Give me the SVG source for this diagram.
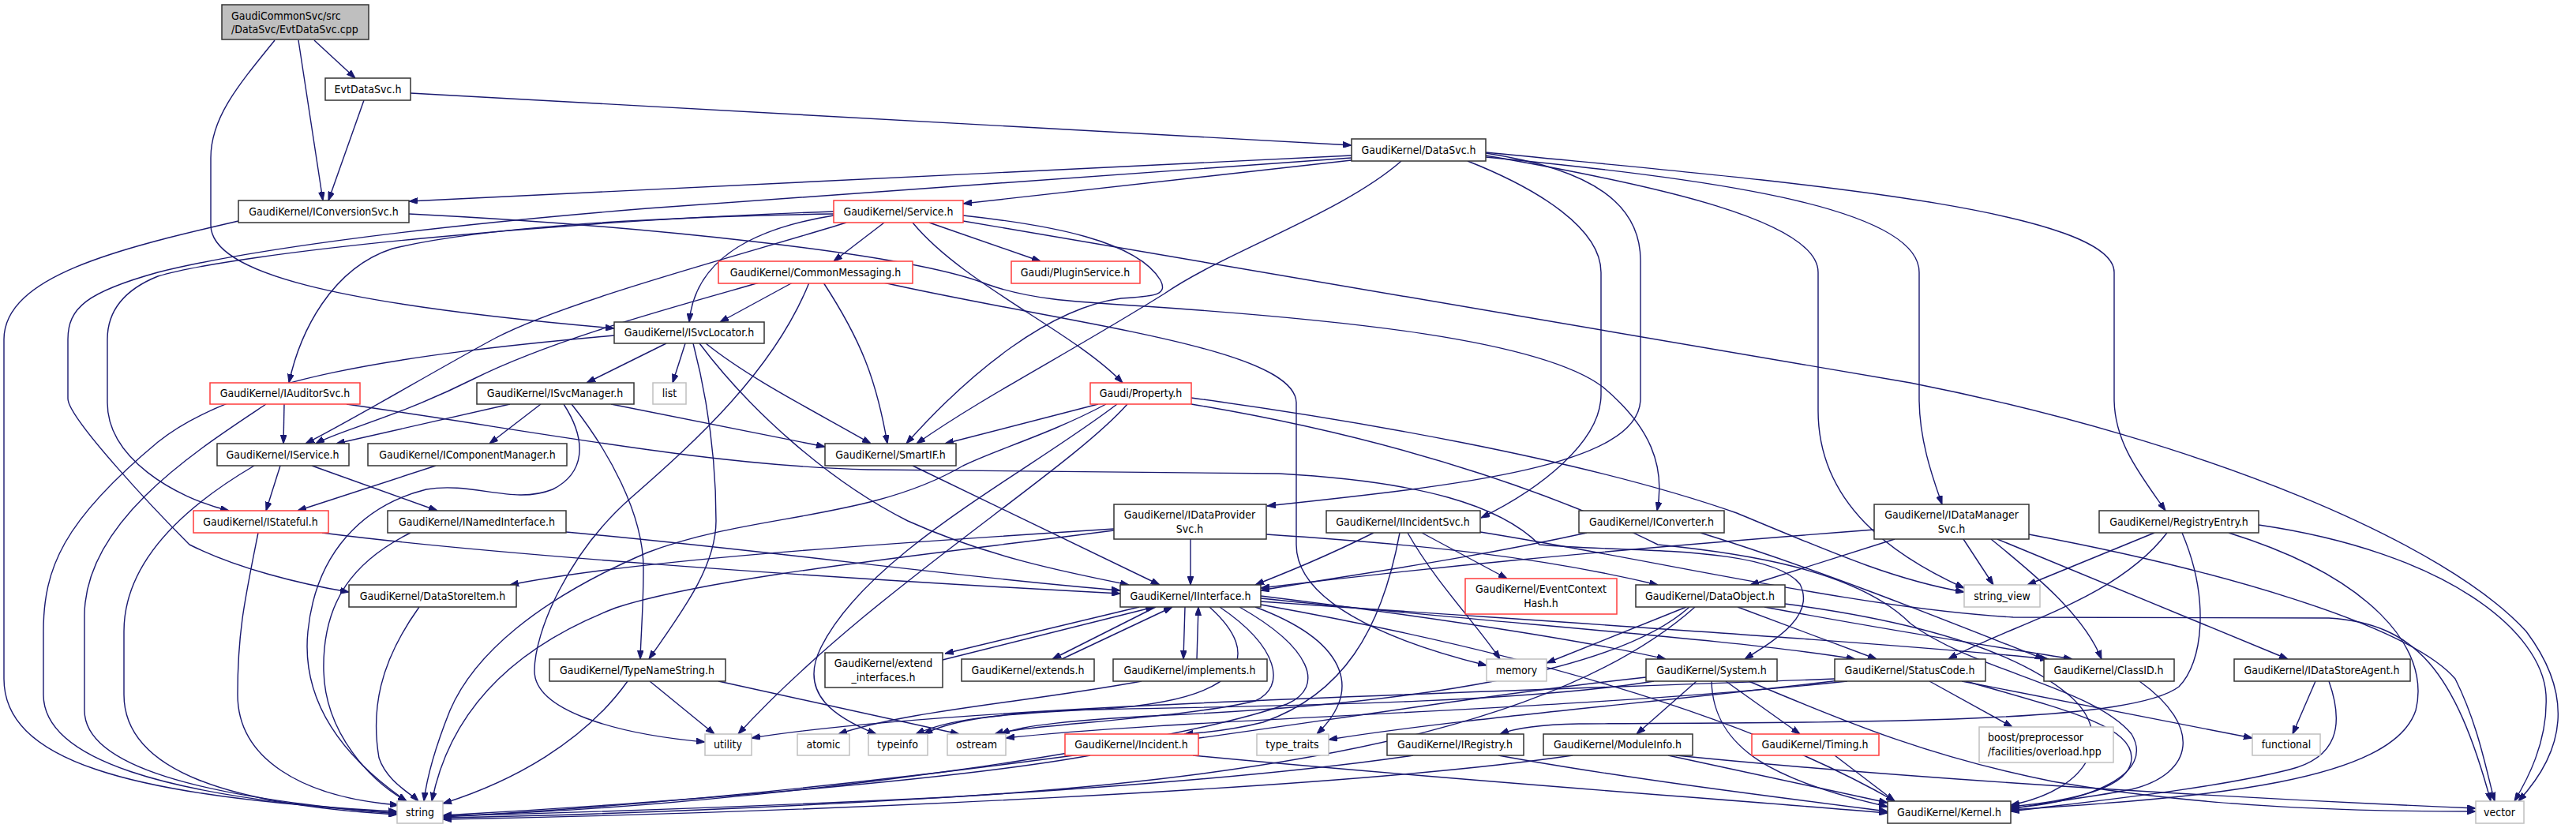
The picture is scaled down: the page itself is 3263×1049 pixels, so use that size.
<svg xmlns="http://www.w3.org/2000/svg" width="3263" height="1049" viewBox="0 0 3263 1049">
<style>
rect{fill:#fff;stroke:#333;stroke-width:1.5}
.red rect{stroke:#ff3c3c}
.gray rect{stroke:#c0c0c0}
.root rect{fill:#bfbfbf}
text{font-family:'DejaVu Sans Condensed','DejaVu Sans',sans-serif;font-stretch:condensed;font-size:14px;fill:#000;text-anchor:middle}
text.l{text-anchor:start}
#edges path{fill:none;stroke:#191970;stroke-width:1.4;marker-end:url(#a)}
</style>
<defs>
<marker id="a" viewBox="0 0 10 7" refX="10" refY="3.5" markerWidth="11" markerHeight="8" markerUnits="userSpaceOnUse" orient="auto"><path d="M0,0L10,3.5L0,7z" fill="#191970" stroke="#191970"/></marker>
</defs>
<rect x="0" y="0" width="3263" height="1049" style="fill:#fff;stroke:none"/>
<g id="edges">
<path d="M398,51 L450,99"/>
<path d="M378,51 L409,254"/>
<path d="M348,51 C300,110 267,150 267,200 L267,285 C267,345 420,385 778,416"/>
<path d="M461,127 L416,254"/>
<path d="M520,118 L1712,184"/>
<path d="M1712,197 L518,255"/>
<path d="M1712,203 L1220,258"/>
<path d="M1712,200 L820,264 C500,290 300,320 200,345 C110,370 86,390 86,430 L86,505 C86,530 200,650 240,690 C300,720 380,740 442,750"/>
<path d="M1775,204 C1700,270 1550,320 1475,372 C1350,450 1250,500 1161,562"/>
<path d="M1220,273 C1330,285 1440,305 1470,355 C1480,375 1460,375 1420,378 C1330,390 1230,470 1148,562"/>
<path d="M1859,204 C1950,240 2028,290 2028,345 L2028,500 C2028,560 1950,620 1876,656"/>
<path d="M1882,194 C2020,215 2078,260 2078,330 L2078,505 C2078,590 1850,615 1605,641"/>
<path d="M1882,197 C2100,235 2303,280 2303,345 L2303,520 C2303,640 2400,705 2488,745"/>
<path d="M1882,199 C2150,225 2431,260 2431,345 L2431,505 C2431,560 2450,610 2460,639"/>
<path d="M1882,193 C2200,225 2678,260 2678,345 L2678,505 C2678,560 2710,600 2743,647"/>
<path d="M302,280 C150,315 5,350 5,430 L5,860 C5,960 150,1010 503,1028"/>
<path d="M518,271 C800,285 1150,320 1250,360 C1300,378 1350,382 1450,388 C1700,405 1950,430 2030,490 C2090,540 2110,590 2099,647"/>
<path d="M1056,271 C800,275 600,290 497,315 C420,340 380,420 366,485"/>
<path d="M1056,268 C700,280 300,320 200,350 C150,370 136,400 136,430 L136,510 C136,580 220,630 290,647"/>
<path d="M1072,282 C950,320 720,380 628,428 C550,470 450,530 387,562"/>
<path d="M1120,282 L1056,331"/>
<path d="M1177,282 L1318,331"/>
<path d="M1156,282 C1220,360 1360,420 1422,485"/>
<path d="M1056,273 C950,290 880,330 873,408"/>
<path d="M1220,280 L2420,485 C2800,560 3100,690 3200,800 C3260,880 3250,950 3190,1015"/>
<path d="M962,358 C850,390 700,430 600,480 C500,530 430,545 400,562"/>
<path d="M1004,358 L912,408"/>
<path d="M1043,358 C1090,430 1110,480 1124,562"/>
<path d="M1119,358 C1350,410 1640,440 1642,510 L1642,690 C1642,760 1750,810 1883,843"/>
<path d="M1025,358 C980,470 880,560 800,630 C720,700 677,800 677,850 C677,900 780,930 893,940"/>
<path d="M844,435 L743,485"/>
<path d="M868,435 L852,485"/>
<path d="M878,435 C900,520 907,600 907,660 C907,720 860,780 822,835"/>
<path d="M886,435 C950,520 1050,610 1150,660 C1250,705 1350,725 1430,741"/>
<path d="M894,435 C950,480 1030,520 1103,562"/>
<path d="M778,425 C500,450 300,480 200,560 C80,660 55,720 55,800 L55,880 C55,960 200,1010 503,1030"/>
<path d="M360,512 L359,562"/>
<path d="M337,512 C250,570 107,660 107,780 L107,900 C107,970 250,1010 503,1031"/>
<path d="M439,512 C700,550 900,590 1100,595 L1620,600 C1800,610 1900,640 1950,690 C2050,700 2240,690 2280,740 C2300,780 2250,810 2210,835"/>
<path d="M646,512 L426,562"/>
<path d="M685,512 L620,562"/>
<path d="M714,512 C745,560 740,600 700,620 C650,640 600,610 540,620 C460,640 400,700 390,800 C380,900 450,970 515,1015"/>
<path d="M724,512 C770,570 815,650 815,720 C815,770 812,800 811,835"/>
<path d="M774,512 L1045,566"/>
<path d="M1391,512 L1197,562"/>
<path d="M1401,512 C1330,550 1260,570 1220,590 C1100,660 950,650 820,700 C680,760 600,830 570,900 C550,950 540,990 537,1015"/>
<path d="M1415,512 C1300,600 1100,700 1040,820 C1010,880 1060,910 1110,930"/>
<path d="M1428,512 C1350,600 1100,750 935,930"/>
<path d="M1509,504 C1700,530 2000,580 2200,650 C2320,700 2400,735 2488,750"/>
<path d="M1509,512 C1800,560 2000,640 2100,690 C2200,700 2350,720 2420,790 C2500,850 2650,870 2700,930 C2730,980 2650,1015 2547,1024"/>
<path d="M355,590 L337,647"/>
<path d="M395,590 L554,647"/>
<path d="M322,590 C220,650 157,720 157,800 L157,880 C157,980 300,1020 503,1032"/>
<path d="M552,590 L377,647"/>
<path d="M327,675 C310,760 301,800 301,880 C301,960 380,1010 505,1020"/>
<path d="M408,675 C600,700 1000,730 1419,752"/>
<path d="M520,675 C450,710 408,760 410,850 C412,930 470,990 515,1015"/>
<path d="M717,674 C1000,700 1200,730 1419,748"/>
<path d="M1156,590 L1469,741"/>
<path d="M531,769 C480,840 470,900 480,960 C490,990 520,1005 530,1015"/>
<path d="M795,863 C740,940 650,990 561,1018"/>
<path d="M823,863 L905,930"/>
<path d="M910,863 L1215,930"/>
<path d="M1508,683 L1508,741"/>
<path d="M1411,670 C1100,690 800,710 646,741"/>
<path d="M1411,672 C1200,700 900,730 780,770 C650,820 570,900 547,1015"/>
<path d="M1604,677 C1800,690 1950,705 2100,741"/>
<path d="M1740,675 C1680,705 1630,725 1590,741"/>
<path d="M1801,675 L1909,733"/>
<path d="M1783,675 C1820,740 1870,790 1900,835"/>
<path d="M1773,675 C1750,800 1700,880 1600,915 C1560,925 1530,928 1500,930"/>
<path d="M1875,674 C2100,710 2350,770 2550,782 L2950,783 C3060,790 3110,850 3155,1015"/>
<path d="M2010,675 C1850,710 1700,730 1597,748"/>
<path d="M2154,675 C2300,720 2450,780 2589,835"/>
<path d="M2374,671 C2000,700 1800,720 1597,745"/>
<path d="M2400,683 L2217,741"/>
<path d="M2487,683 L2525,741"/>
<path d="M2522,683 C2580,730 2640,780 2662,835"/>
<path d="M2530,683 L2898,835"/>
<path d="M2570,677 C2800,720 3050,790 3110,860 C3140,920 3150,980 3160,1015"/>
<path d="M2729,675 L2568,741"/>
<path d="M2745,675 C2680,760 2550,790 2468,835"/>
<path d="M2764,675 C2800,760 2790,840 2760,870 C2700,915 2400,915 2000,917 C1950,918 1920,922 1900,930"/>
<path d="M2823,675 C3000,730 3080,820 3060,900 C3030,990 2800,1010 2547,1026"/>
<path d="M2861,665 C3100,700 3220,800 3225,880 C3228,940 3200,990 3185,1015"/>
<path d="M1443,769 L1197,828"/>
<path d="M1194,836 L1462,769"/>
<path d="M1464,769 L1333,835"/>
<path d="M1345,835 L1485,769"/>
<path d="M1501,769 L1499,835"/>
<path d="M1516,835 L1518,769"/>
<path d="M1545,769 C1620,820 1630,870 1590,888 C1500,910 1300,918 1260,930"/>
<path d="M1532,769 C1600,830 1580,885 1400,898 C1250,905 1200,912 1160,930"/>
<path d="M1570,769 C1660,820 1680,870 1630,892 C1500,940 1000,1020 561,1034"/>
<path d="M1590,769 C1700,810 1730,870 1668,930"/>
<path d="M1597,755 C1800,780 2000,810 2110,835"/>
<path d="M1597,758 C1900,790 2200,810 2350,835"/>
<path d="M1597,762 C2000,790 2400,815 2595,835"/>
<path d="M1597,766 C1900,820 2200,900 2400,1015"/>
<path d="M1446,863 C1300,890 1150,900 1062,930"/>
<path d="M2149,863 L2073,930"/>
<path d="M2186,863 L2280,930"/>
<path d="M2168,863 C2170,950 2250,990 2391,1022"/>
<path d="M2215,863 C2350,920 2450,960 2600,990 C2800,1025 3000,1028 3136,1028"/>
<path d="M2085,858 C1700,900 1200,1000 561,1035"/>
<path d="M2095,863 C1900,895 1500,895 1350,900 C1250,905 1200,915 1170,930"/>
<path d="M2444,863 L2549,921"/>
<path d="M2485,863 L2853,935"/>
<path d="M2490,863 C2620,900 2700,920 2700,960 C2700,1000 2620,1015 2547,1022"/>
<path d="M2340,863 C2000,900 1500,910 1274,935"/>
<path d="M2330,862 C2100,890 1850,910 1683,937"/>
<path d="M2324,860 C1800,880 1200,895 952,935"/>
<path d="M2710,863 C2790,920 2780,980 2700,1000 C2650,1010 2600,1015 2547,1025"/>
<path d="M2933,863 L2904,930"/>
<path d="M2950,863 C2970,920 2960,960 2900,975 C2800,1000 2650,1015 2547,1028"/>
<path d="M1790,957 C1500,1000 900,1030 561,1036"/>
<path d="M1898,957 C2050,985 2250,1010 2391,1028"/>
<path d="M1992,957 C1700,1000 1000,1030 561,1038"/>
<path d="M2113,957 L2391,1017"/>
<path d="M2123,957 C2400,985 2800,1010 3136,1024"/>
<path d="M2324,957 L2400,1015"/>
<path d="M1381,957 C1200,990 800,1020 561,1033"/>
<path d="M1511,957 C1800,985 2150,1010 2391,1030"/>
<path d="M2136,769 L1959,840"/>
<path d="M2201,769 L2377,835"/>
<path d="M2235,769 C2400,800 2500,815 2625,835"/>
<path d="M2147,769 C2000,900 1700,980 1200,1010 C900,1025 700,1030 561,1034"/>
<path d="M2140,769 C2050,850 1800,890 1500,905 C1350,912 1290,920 1268,930"/>
<path d="M2261,765 C2450,790 2560,830 2620,880 C2680,930 2650,1000 2547,1020"/>
</g>
<g id="n_root" class="root"><rect x="281" y="6" width="186" height="44"/><text class="l" x="293" y="25">GaudiCommonSvc/src</text><text class="l" x="293" y="42">/DataSvc/EvtDataSvc.cpp</text></g>
<g id="n_evt"><rect x="412" y="99" width="108" height="28"/><text x="466" y="118">EvtDataSvc.h</text></g>
<g id="n_iconv"><rect x="302" y="254" width="216" height="28"/><text x="410" y="273">GaudiKernel/IConversionSvc.h</text></g>
<g id="n_datasvc"><rect x="1712" y="176" width="170" height="28"/><text x="1797" y="195">GaudiKernel/DataSvc.h</text></g>
<g id="n_service" class="red"><rect x="1056" y="254" width="164" height="28"/><text x="1138" y="273">GaudiKernel/Service.h</text></g>
<g id="n_commsg" class="red"><rect x="910" y="331" width="246" height="28"/><text x="1033" y="350">GaudiKernel/CommonMessaging.h</text></g>
<g id="n_plugin" class="red"><rect x="1281" y="331" width="163" height="28"/><text x="1362" y="350">Gaudi/PluginService.h</text></g>
<g id="n_isvcloc"><rect x="778" y="408" width="190" height="27"/><text x="873" y="426">GaudiKernel/ISvcLocator.h</text></g>
<g id="n_list" class="gray"><rect x="827" y="485" width="42" height="27"/><text x="848" y="503">list</text></g>
<g id="n_iaud" class="red"><rect x="266" y="485" width="190" height="27"/><text x="361" y="503">GaudiKernel/IAuditorSvc.h</text></g>
<g id="n_isvcman"><rect x="604" y="485" width="199" height="27"/><text x="703" y="503">GaudiKernel/ISvcManager.h</text></g>
<g id="n_prop" class="red"><rect x="1381" y="485" width="128" height="27"/><text x="1445" y="503">Gaudi/Property.h</text></g>
<g id="n_iservice"><rect x="275" y="562" width="167" height="28"/><text x="358" y="581">GaudiKernel/IService.h</text></g>
<g id="n_icomp"><rect x="466" y="562" width="252" height="28"/><text x="592" y="581">GaudiKernel/IComponentManager.h</text></g>
<g id="n_smartif"><rect x="1045" y="562" width="166" height="28"/><text x="1128" y="581">GaudiKernel/SmartIF.h</text></g>
<g id="n_istateful" class="red"><rect x="245" y="647" width="171" height="28"/><text x="330" y="666">GaudiKernel/IStateful.h</text></g>
<g id="n_inamed"><rect x="491" y="647" width="226" height="28"/><text x="604" y="666">GaudiKernel/INamedInterface.h</text></g>
<g id="n_idps"><rect x="1411" y="639" width="193" height="44"/><text x="1507" y="657">GaudiKernel/IDataProvider</text><text x="1507" y="675">Svc.h</text></g>
<g id="n_iinc"><rect x="1680" y="647" width="195" height="28"/><text x="1777" y="666">GaudiKernel/IIncidentSvc.h</text></g>
<g id="n_iconverter"><rect x="2000" y="647" width="184" height="28"/><text x="2092" y="666">GaudiKernel/IConverter.h</text></g>
<g id="n_idms"><rect x="2374" y="639" width="196" height="44"/><text x="2472" y="657">GaudiKernel/IDataManager</text><text x="2472" y="675">Svc.h</text></g>
<g id="n_regentry"><rect x="2659" y="647" width="202" height="28"/><text x="2760" y="666">GaudiKernel/RegistryEntry.h</text></g>
<g id="n_dsi"><rect x="442" y="741" width="212" height="28"/><text x="548" y="760">GaudiKernel/DataStoreItem.h</text></g>
<g id="n_iinterface"><rect x="1419" y="741" width="178" height="28"/><text x="1508" y="760">GaudiKernel/IInterface.h</text></g>
<g id="n_ech" class="red"><rect x="1856" y="733" width="192" height="45"/><text x="1952" y="751">GaudiKernel/EventContext</text><text x="1952" y="769">Hash.h</text></g>
<g id="n_dataobj"><rect x="2072" y="741" width="189" height="28"/><text x="2166" y="760">GaudiKernel/DataObject.h</text></g>
<g id="n_strview" class="gray"><rect x="2488" y="741" width="96" height="28"/><text x="2536" y="760">string_view</text></g>
<g id="n_tns"><rect x="696" y="835" width="223" height="28"/><text x="807" y="854">GaudiKernel/TypeNameString.h</text></g>
<g id="n_extint"><rect x="1045" y="827" width="149" height="44"/><text x="1119" y="845">GaudiKernel/extend</text><text x="1119" y="863">_interfaces.h</text></g>
<g id="n_extends"><rect x="1218" y="835" width="168" height="28"/><text x="1302" y="854">GaudiKernel/extends.h</text></g>
<g id="n_impl"><rect x="1410" y="835" width="195" height="28"/><text x="1507" y="854">GaudiKernel/implements.h</text></g>
<g id="n_memory" class="gray"><rect x="1883" y="835" width="76" height="28"/><text x="1921" y="854">memory</text></g>
<g id="n_system"><rect x="2085" y="835" width="166" height="28"/><text x="2168" y="854">GaudiKernel/System.h</text></g>
<g id="n_status"><rect x="2324" y="835" width="191" height="28"/><text x="2419" y="854">GaudiKernel/StatusCode.h</text></g>
<g id="n_classid"><rect x="2589" y="835" width="165" height="28"/><text x="2671" y="854">GaudiKernel/ClassID.h</text></g>
<g id="n_idsa"><rect x="2830" y="835" width="223" height="28"/><text x="2941" y="854">GaudiKernel/IDataStoreAgent.h</text></g>
<g id="n_utility" class="gray"><rect x="893" y="930" width="59" height="27"/><text x="922" y="948">utility</text></g>
<g id="n_atomic" class="gray"><rect x="1010" y="930" width="66" height="27"/><text x="1043" y="948">atomic</text></g>
<g id="n_typeinfo" class="gray"><rect x="1100" y="930" width="75" height="27"/><text x="1137" y="948">typeinfo</text></g>
<g id="n_ostream" class="gray"><rect x="1200" y="930" width="74" height="27"/><text x="1237" y="948">ostream</text></g>
<g id="n_incident" class="red"><rect x="1349" y="930" width="169" height="27"/><text x="1433" y="948">GaudiKernel/Incident.h</text></g>
<g id="n_typetraits" class="gray"><rect x="1592" y="930" width="91" height="27"/><text x="1637" y="948">type_traits</text></g>
<g id="n_iregistry"><rect x="1757" y="930" width="173" height="27"/><text x="1843" y="948">GaudiKernel/IRegistry.h</text></g>
<g id="n_modinfo"><rect x="1955" y="930" width="189" height="27"/><text x="2049" y="948">GaudiKernel/ModuleInfo.h</text></g>
<g id="n_timing" class="red"><rect x="2219" y="930" width="161" height="27"/><text x="2299" y="948">GaudiKernel/Timing.h</text></g>
<g id="n_boost" class="gray"><rect x="2507" y="921" width="170" height="45"/><text class="l" x="2518" y="939">boost/preprocessor</text><text class="l" x="2518" y="957">/facilities/overload.hpp</text></g>
<g id="n_functional" class="gray"><rect x="2853" y="930" width="86" height="27"/><text x="2896" y="948">functional</text></g>
<g id="n_string" class="gray"><rect x="503" y="1015" width="58" height="28"/><text x="532" y="1034">string</text></g>
<g id="n_kernel"><rect x="2391" y="1015" width="156" height="28"/><text x="2469" y="1034">GaudiKernel/Kernel.h</text></g>
<g id="n_vector" class="gray"><rect x="3136" y="1015" width="61" height="28"/><text x="3166" y="1034">vector</text></g>
</svg>
